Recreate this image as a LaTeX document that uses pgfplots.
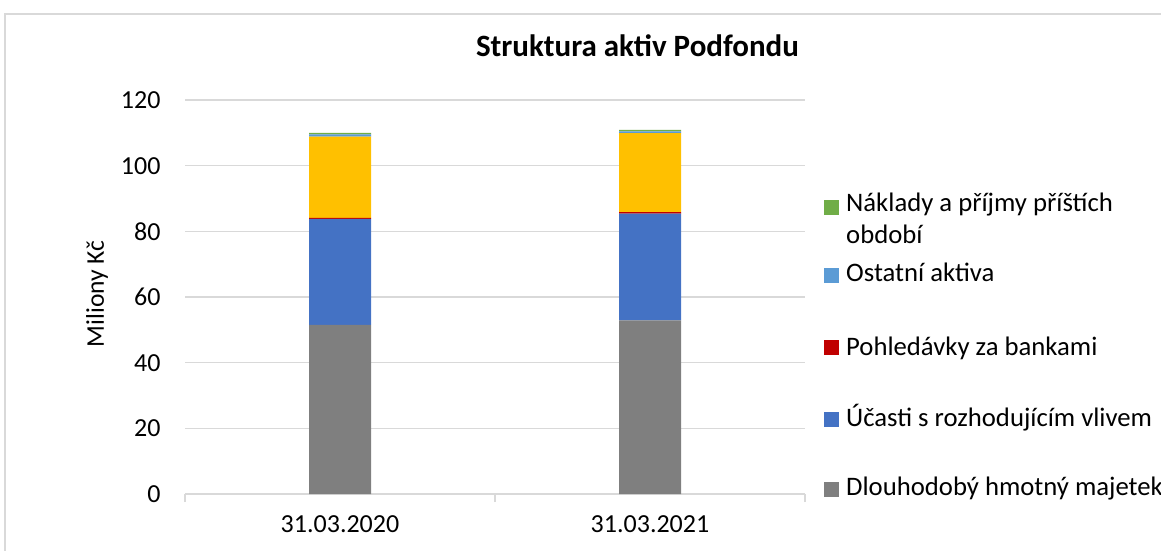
\documentclass[border=0pt]{standalone}
\usepackage{fontspec}
\setmainfont{Carlito}
\usepackage{pgfplots}
\usepackage{pgfplotstable}
\pgfplotsset{compat=1.18}
\definecolor{cgrey}{HTML}{7F7F7F}
\definecolor{cblue}{HTML}{4472C4}
\definecolor{cred}{HTML}{C00000}
\definecolor{cyellow}{HTML}{FFC000}
\definecolor{clblue}{HTML}{5B9BD5}
\definecolor{cgreen}{HTML}{70AD47}
\definecolor{gridc}{HTML}{D9D9D9}
\pgfplotstableread{
x grey blue red yellow lblue green
0 51.5 32.3 0.3 24.75 0.7 0.4
1 52.9 32.5 0.45 24.07 0.5 0.5
}\data
\newcommand{\fs}{\fontsize{26}{31}\selectfont}
\newcommand{\fl}{\fontsize{26.7}{32}\selectfont}
\begin{document}
\begin{tikzpicture}
\useasboundingbox (0,0) rectangle (1161pt,550pt);
\draw[gridc, line width=1.5pt] (5pt,-10pt) -- (5pt,536pt) -- (1175pt,536pt);
\begin{axis}[
  at={(185pt,56pt)}, anchor=south west,
  scale only axis, width=620pt, height=394pt,
  ybar stacked, bar width=62pt,
  xmin=-0.5, xmax=1.5, ymin=0, ymax=120,
  ytick={0,20,...,120},
  xtick={0,1}, xticklabels={31.03.2020,31.03.2021},
  extra x ticks={-0.5,0.5,1.5}, extra x tick labels={},
  extra x tick style={major tick length=8pt, tick style={gridc, line width=1.3pt}},
  xtick pos=bottom, tick align=outside,
  major tick length=0pt,
  axis line style={draw=none},
  ymajorgrids, grid style={gridc, line width=1.3pt},
  tick label style={font=\fs, text=black},
  /pgf/number format/assume math mode=true,
  yticklabel style={xshift=-21pt},
  xticklabel style={yshift=-18pt},
  ylabel={Miliony Kč},
  ylabel style={font=\fontsize{25.5}{30}\selectfont, at={(axis description cs:-0.142,0.5076)}, anchor=center},
  title={Struktura aktiv Podfondu},
  title style={font=\fontsize{31}{36}\selectfont\bfseries, at={(axis description cs:0.7298,1.0964)}, anchor=base},
]
\addplot[fill=cgrey, draw=none] table[x=x, y=grey] {\data};
\addplot[fill=cblue, draw=none] table[x=x, y=blue] {\data};
\addplot[fill=cred, draw=none] table[x=x, y=red] {\data};
\addplot[fill=cyellow, draw=none] table[x=x, y=yellow] {\data};
\addplot[fill=clblue, draw=none] table[x=x, y=lblue] {\data};
\addplot[fill=cgreen, draw=none] table[x=x, y=green] {\data};
\end{axis}
% legend
\fill[cgreen]  (824pt,{550pt-215pt}) rectangle (839pt,{550pt-200pt});
\fill[clblue]  (824pt,{550pt-283.3pt}) rectangle (839pt,{550pt-268.3pt});
\fill[cred]    (824pt,{550pt-354.5pt}) rectangle (839pt,{550pt-339.5pt});
\fill[cblue]   (824pt,{550pt-426.5pt}) rectangle (839pt,{550pt-411.5pt});
\fill[cgrey]   (824pt,{550pt-496.5pt}) rectangle (839pt,{550pt-481.5pt});
\node[anchor=base west, inner sep=0pt, font=\fl] at (846pt,{550pt-211.7pt}) {Náklady a příjmy příštích};
\node[anchor=base west, inner sep=0pt, font=\fl] at (846pt,{550pt-243pt}) {období};
\node[anchor=base west, inner sep=0pt, font=\fl] at (846pt,{550pt-281.7pt}) {Ostatní aktiva};
\node[anchor=base west, inner sep=0pt, font=\fl] at (846pt,{550pt-355pt}) {Pohledávky za bankami};
\node[anchor=base west, inner sep=0pt, font=\fl] at (846pt,{550pt-426.7pt}) {Účasti s rozhodujícím vlivem};
\node[anchor=base west, inner sep=0pt, font=\fl] at (846pt,{550pt-495pt}) {Dlouhodobý hmotný majetek};
\end{tikzpicture}
\end{document}
